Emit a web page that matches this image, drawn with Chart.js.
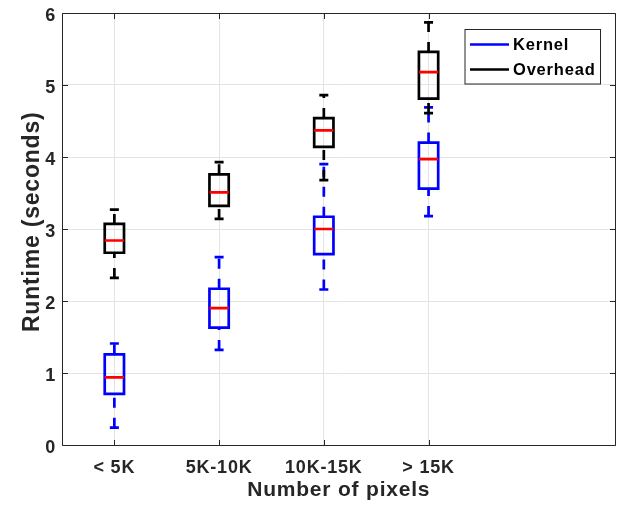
<!DOCTYPE html>
<html><head><meta charset="utf-8">
<script src="https://cdn.jsdelivr.net/npm/chart.js@4"></script>
<style>html,body{margin:0;padding:0;background:#fff;}canvas{display:block}</style>
</head><body>
<canvas id="c" width="621" height="508"></canvas>
<script>
// ---- data ----
const categories = ['< 5K', '5K-10K', '10K-15K', '> 15K'];
const seriesNames = ['Kernel', 'Overhead'];
const kernelLower  = [0.24, 1.32, 2.16, 3.18];
const kernelQ1     = [0.71, 1.63, 2.65, 3.56];
const kernelMedian = [0.94, 1.90, 3.00, 3.97];
const kernelQ3     = [1.26, 2.17, 3.17, 4.20];
const kernelUpper  = [1.41, 2.61, 3.90, 4.69];
const overheadLower  = [2.32, 3.14, 3.68, 4.61];
const overheadQ1     = [2.67, 3.32, 4.14, 4.81];
const overheadMedian = [2.84, 3.51, 4.37, 5.18];
const overheadQ3     = [3.07, 3.76, 4.54, 5.46];
const overheadUpper  = [3.27, 3.93, 4.86, 5.87];
const yTicks = [0, 1, 2, 3, 4, 5, 6];
const xLabel = 'Number of pixels';
const yLabel = 'Runtime (seconds)';

// ---- styles ----
const seriesColors = ['#0000ff', '#000000'];
const medianColor = '#ff0000';
const axisColor = '#262626';
const gridColor = '#e3e3e3';
const FONT = '"Liberation Sans", Arial, Helvetica, sans-serif';
const LW = 2.7;
const BOX_HALF = 0.092, CAP_HALF = 0.043;
const SPACING = '0.8px';

function gap(x) { return {x: x, y: null}; }
function buildSeries(idx, lo, q1, med, q3, hi, baseOrder) {
  const color = seriesColors[idx];
  const box = [], meds = [], whisk = [], caps = [];
  categories.forEach((c, i) => {
    const x = i + 1;
    box.push({x: x - BOX_HALF, y: q1[i]}, {x: x + BOX_HALF, y: q1[i]}, {x: x + BOX_HALF, y: q3[i]},
             {x: x - BOX_HALF, y: q3[i]}, {x: x - BOX_HALF, y: q1[i]}, {x: x + BOX_HALF, y: q1[i]}, gap(x));
    meds.push({x: x - BOX_HALF, y: med[i]}, {x: x + BOX_HALF, y: med[i]}, gap(x));
    whisk.push({x: x, y: lo[i]}, {x: x, y: q1[i]}, gap(x), {x: x, y: q3[i]}, {x: x, y: hi[i]}, gap(x));
    caps.push({x: x - CAP_HALF, y: lo[i]}, {x: x + CAP_HALF, y: lo[i]}, gap(x),
              {x: x - CAP_HALF, y: hi[i]}, {x: x + CAP_HALF, y: hi[i]}, gap(x));
  });
  const common = {pointRadius: 0, pointHoverRadius: 0, borderWidth: LW, spanGaps: false, fill: false, tension: 0, borderJoinStyle: 'miter'};
  return [
    Object.assign({label: seriesNames[idx] + ' median', data: meds, borderColor: medianColor, order: baseOrder}, common),
    Object.assign({label: seriesNames[idx], data: box, borderColor: color, order: baseOrder + 1}, common),
    Object.assign({label: seriesNames[idx] + ' whiskers', data: whisk, borderColor: color, borderDash: [10, 10], order: baseOrder + 2}, common),
    Object.assign({label: seriesNames[idx] + ' caps', data: caps, borderColor: color, order: baseOrder + 2}, common)
  ];
}

const datasets = [].concat(
  buildSeries(0, kernelLower, kernelQ1, kernelMedian, kernelQ3, kernelUpper, 10),
  buildSeries(1, overheadLower, overheadQ1, overheadMedian, overheadQ3, overheadUpper, 0)
);

const spacingPlugin = {
  id: 'spacing',
  beforeDraw(chart) { try { chart.ctx.letterSpacing = SPACING; } catch (e) {} }
};

const framePlugin = {
  id: 'frame',
  afterDatasetsDraw(chart) {
    const {ctx, chartArea: a, scales} = chart;
    const L = Math.round(a.left) + 0.5, R = Math.round(a.right - 0.5) + 0.5;
    const T = Math.round(a.top) + 0.5, B = Math.round(a.bottom) + 0.5;
    const TL = 5.5;
    ctx.save();
    ctx.strokeStyle = axisColor;
    ctx.lineWidth = 1;
    ctx.beginPath();
    ctx.rect(L, T, R - L, B - T);
    scales.x.ticks.forEach(t => {
      const px = Math.round(scales.x.getPixelForValue(t.value)) + 0.5;
      ctx.moveTo(px, B); ctx.lineTo(px, B - TL);
      ctx.moveTo(px, T); ctx.lineTo(px, T + TL);
    });
    scales.y.ticks.forEach(t => {
      const py = Math.round(scales.y.getPixelForValue(t.value)) + 0.5;
      ctx.moveTo(L, py); ctx.lineTo(L + TL, py);
      ctx.moveTo(R, py); ctx.lineTo(R - TL, py);
    });
    ctx.stroke();
    ctx.restore();
  }
};

const legendPlugin = {
  id: 'boxLegend',
  afterDraw(chart) {
    const {ctx, chartArea: a} = chart;
    const right = Math.round(a.right) - 15.5, top = Math.round(a.top) + 16.5;
    const w = 135.5, h = 54.5;
    const left = right - w;
    ctx.save();
    ctx.fillStyle = '#ffffff';
    ctx.fillRect(left, top, w, h);
    ctx.strokeStyle = axisColor;
    ctx.lineWidth = 1;
    ctx.strokeRect(left, top, w, h);
    ctx.font = 'bold 16.5px ' + FONT;
    ctx.textBaseline = 'middle';
    ctx.textAlign = 'left';
    try { ctx.letterSpacing = SPACING; } catch (e) {}
    seriesNames.forEach((name, i) => {
      const y = top + 15 + i * 25;
      ctx.strokeStyle = seriesColors[i];
      ctx.lineWidth = LW;
      ctx.beginPath();
      ctx.moveTo(left + 5, y);
      ctx.lineTo(left + 44, y);
      ctx.stroke();
      ctx.fillStyle = '#000000';
      ctx.fillText(name, left + 48, y + 0.5);
    });
    ctx.restore();
  }
};

new Chart(document.getElementById('c'), {
  type: 'line',
  data: {datasets: datasets},
  plugins: [spacingPlugin, framePlugin, legendPlugin],
  options: {
    responsive: false,
    animation: false,
    events: [],
    layout: {padding: {top: 13, right: 5.5, left: 0, bottom: 0}},
    plugins: {legend: {display: false}, tooltip: {enabled: false}},
    scales: {
      x: {
        type: 'linear', min: 0.5, max: 5.785,
        afterBuildTicks: s => { s.ticks = categories.map((c, i) => ({value: i + 1})); },
        afterFit: s => { s.height = 63; s.paddingLeft = 0; s.paddingRight = 0; },
        grid: {color: gridColor, lineWidth: 1, drawTicks: false},
        border: {display: false},
        ticks: {
          autoSkip: false, maxRotation: 0, minRotation: 0, padding: 12.5, color: axisColor,
          font: {family: FONT, size: 18, weight: 'bold'},
          callback: v => categories[v - 1] !== undefined ? categories[v - 1] : ''
        },
        title: {display: true, text: xLabel, color: axisColor, font: {family: FONT, size: 21, weight: 'bold'}, padding: {top: 0, bottom: 5}}
      },
      y: {
        type: 'linear', min: yTicks[0], max: yTicks[yTicks.length - 1],
        afterBuildTicks: s => { s.ticks = yTicks.map(v => ({value: v})); },
        afterFit: s => { s.width = 62; s.paddingTop = 0; s.paddingBottom = 0; },
        grid: {color: gridColor, lineWidth: 1, drawTicks: false},
        border: {display: false},
        ticks: {padding: 6, labelOffset: 3, color: axisColor, font: {family: FONT, size: 18, weight: 'bold'}},
        title: {display: true, text: '  ' + yLabel, color: axisColor, font: {family: FONT, size: 23, weight: 'bold'}, padding: {top: 19, bottom: 0}}
      }
    }
  }
});
</script>
</body></html>
